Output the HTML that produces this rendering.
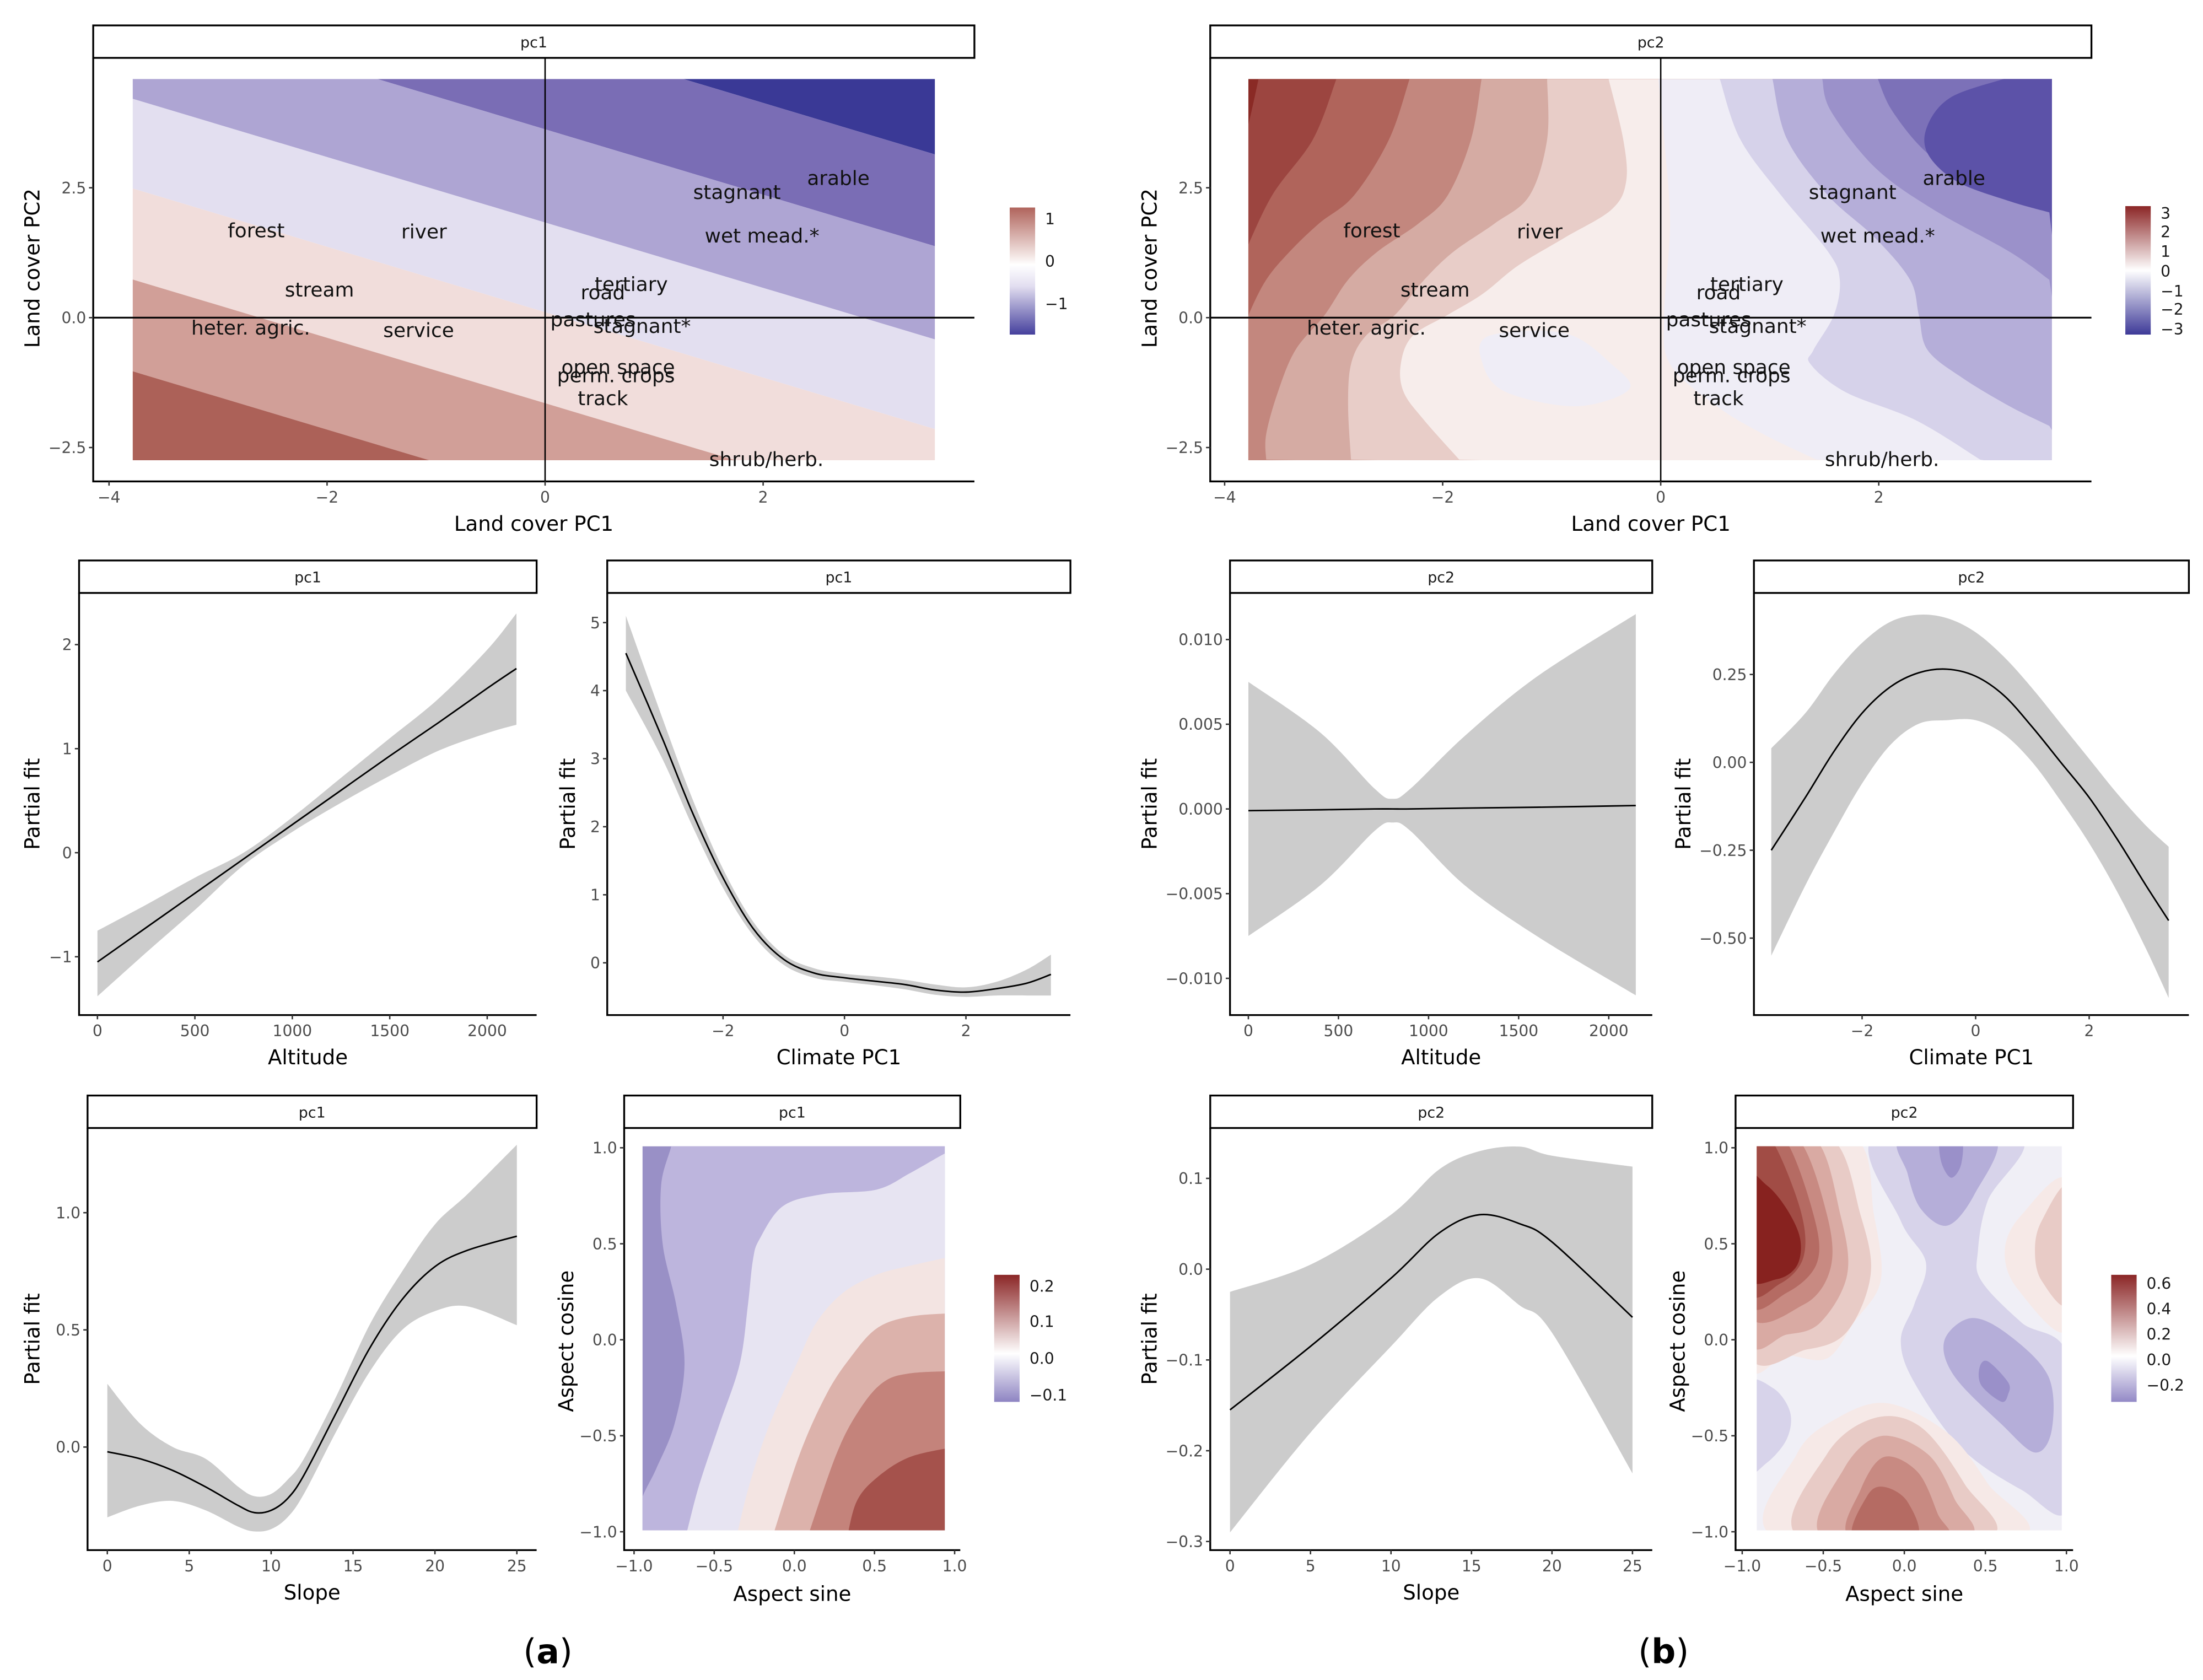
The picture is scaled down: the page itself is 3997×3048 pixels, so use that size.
<!DOCTYPE html>
<html>
<head>
<meta charset="utf-8">
<style>
html,body{margin:0;padding:0;background:#fff;}
svg{display:block;}
text{font-family:"DejaVu Sans","Liberation Sans",sans-serif;}
</style>
</head>
<body>
<svg id="chart" xmlns="http://www.w3.org/2000/svg" width="3997" height="3048" viewBox="0 0 1560 1190" preserveAspectRatio="none">
<defs>
<linearGradient id="gTL" x1="0" y1="0" x2="0" y2="1"><stop offset="0" stop-color="#b0645c"/><stop offset="0.38" stop-color="#f3e6e4"/><stop offset="0.45" stop-color="#ffffff"/><stop offset="0.62" stop-color="#e2def0"/><stop offset="1" stop-color="#45409d"/></linearGradient>
<linearGradient id="gTR" x1="0" y1="0" x2="0" y2="1"><stop offset="0" stop-color="#8b2626"/><stop offset="0.5" stop-color="#ffffff"/><stop offset="1" stop-color="#3e3a98"/></linearGradient>
<linearGradient id="gBL" x1="0" y1="0" x2="0" y2="1"><stop offset="0" stop-color="#8b2626"/><stop offset="0.62" stop-color="#ffffff"/><stop offset="1" stop-color="#8e84c2"/></linearGradient>
<linearGradient id="gBR" x1="0" y1="0" x2="0" y2="1"><stop offset="0" stop-color="#8b2626"/><stop offset="0.64" stop-color="#ffffff"/><stop offset="1" stop-color="#9389c6"/></linearGradient>
<clipPath id="cTL"><rect x="94" y="56" width="568" height="270"/></clipPath>
<clipPath id="cTR"><rect x="884" y="56" width="569" height="270"/></clipPath>
<clipPath id="cBL"><rect x="455" y="812" width="214" height="272"/></clipPath>
<clipPath id="cBR"><rect x="1244" y="812" width="216" height="272"/></clipPath>
</defs>
</svg>
<script>
// ---------------- DATA ----------------
const lcNames = ["arable","stagnant","forest","river","wet mead.*","tertiary","road","stream","pastures","heter. agric.","service","stagnant*","open space","perm. crops","track","shrub/herb."];
const lcPC1 = [2.69,1.76,-2.65,-1.11,1.99,0.79,0.53,-2.07,0.44,-2.70,-1.16,0.89,0.67,0.65,0.53,2.03];
const lcPC2 = [2.69,2.42,1.68,1.66,1.58,0.65,0.49,0.54,-0.03,-0.19,-0.24,-0.16,-0.95,-1.11,-1.55,-2.72];
const tlBoundaries = [-61,4,70,133.5,198,263];
const tlColors = ["#3a3996","#7a6db5","#aea5d3","#e3dff0","#f1dddb","#d19f98","#ac6158"];

const altX = [0,250,500,750,1000,1250,1500,1750,2000,2150];
const alt1Fit = [-1.05,-0.72,-0.39,-0.06,0.27,0.6,0.93,1.25,1.58,1.77];
const alt1Hi = [-0.75,-0.5,-0.24,0.0,0.34,0.72,1.1,1.48,1.95,2.3];
const alt1Lo = [-1.38,-0.96,-0.55,-0.12,0.2,0.48,0.74,0.98,1.15,1.23];
const climX = [-3.6,-3,-2.5,-2,-1.5,-1,-0.5,0,0.5,1,1.5,2,2.5,3,3.4];
const clim1Fit = [4.55,3.3,2.2,1.25,0.5,0.05,-0.15,-0.22,-0.27,-0.32,-0.4,-0.43,-0.38,-0.3,-0.17];
const clim1Hi = [5.1,3.6,2.4,1.38,0.6,0.12,-0.08,-0.16,-0.2,-0.25,-0.32,-0.36,-0.28,-0.1,0.12];
const clim1Lo = [4.0,3.0,2.0,1.1,0.4,-0.03,-0.22,-0.28,-0.33,-0.39,-0.47,-0.5,-0.48,-0.48,-0.48];
const alt2X = [0,400,700,800,900,1200,1600,2150];
const alt2Fit = [-0.0001,-0.00005,0.0,0.0,0.0,0.00005,0.0001,0.0002];
const alt2Hi = [0.0075,0.0045,0.0012,0.0006,0.0012,0.0043,0.0078,0.0115];
const alt2Lo = [-0.0075,-0.0045,-0.0013,-0.0008,-0.0013,-0.0045,-0.0075,-0.011];
const clim2Fit = [-0.25,-0.1,0.03,0.14,0.215,0.255,0.265,0.245,0.19,0.1,0.0,-0.1,-0.22,-0.35,-0.45];
const clim2Hi = [0.04,0.14,0.25,0.34,0.4,0.42,0.41,0.37,0.3,0.21,0.11,0.01,-0.09,-0.18,-0.24];
const clim2Lo = [-0.55,-0.35,-0.2,-0.06,0.05,0.11,0.12,0.12,0.08,0.0,-0.11,-0.23,-0.37,-0.53,-0.67];
const slopeX = [0,2,4,6,8,9,10,11,12,14,16,18,20,22,25];
const slope1Fit = [-0.02,-0.05,-0.1,-0.17,-0.25,-0.28,-0.27,-0.22,-0.12,0.15,0.42,0.63,0.77,0.84,0.9];
const slope1Hi = [0.27,0.1,0.0,-0.05,-0.17,-0.21,-0.2,-0.14,-0.05,0.22,0.52,0.75,0.95,1.08,1.29];
const slope1Lo = [-0.3,-0.25,-0.23,-0.27,-0.34,-0.36,-0.35,-0.3,-0.2,0.07,0.32,0.5,0.58,0.6,0.52];
const slope2X = [0,5,10,13,15.5,18,20,25];
const slope2Fit = [-0.155,-0.085,-0.01,0.04,0.06,0.05,0.03,-0.053];
const slope2Hi = [-0.025,0.005,0.06,0.11,0.13,0.135,0.125,0.113];
const slope2Lo = [-0.29,-0.18,-0.085,-0.03,-0.01,-0.04,-0.07,-0.225];

// ---------------- HELPERS ----------------
const NS = "http://www.w3.org/2000/svg";
const svg = document.getElementById('chart');
function mk(tag, attrs, parent){
  const e = document.createElementNS(NS, tag);
  for (const k in attrs) e.setAttribute(k, attrs[k]);
  (parent || svg).appendChild(e);
  return e;
}
function smooth(p, cont){
  let d = (cont ? 'L' : 'M') + p[0][0].toFixed(2) + ',' + p[0][1].toFixed(2);
  for (let i = 0; i < p.length - 1; i++){
    const p0 = p[i-1] || p[i], p1 = p[i], p2 = p[i+1], p3 = p[i+2] || p2;
    const c1 = [p1[0] + (p2[0]-p0[0])/6, p1[1] + (p2[1]-p0[1])/6];
    const c2 = [p2[0] - (p3[0]-p1[0])/6, p2[1] - (p3[1]-p1[1])/6];
    d += ` C${c1[0].toFixed(2)},${c1[1].toFixed(2)} ${c2[0].toFixed(2)},${c2[1].toFixed(2)} ${p2[0].toFixed(2)},${p2[1].toFixed(2)}`;
  }
  return d;
}
function smoothClosed(p){
  const n = p.length;
  let d = 'M' + p[0][0] + ',' + p[0][1];
  for (let i = 0; i < n; i++){
    const p0 = p[(i-1+n)%n], p1 = p[i], p2 = p[(i+1)%n], p3 = p[(i+2)%n];
    const c1 = [p1[0] + (p2[0]-p0[0])/6, p1[1] + (p2[1]-p0[1])/6];
    const c2 = [p2[0] - (p3[0]-p1[0])/6, p2[1] - (p3[1]-p1[1])/6];
    d += ` C${c1[0].toFixed(2)},${c1[1].toFixed(2)} ${c2[0].toFixed(2)},${c2[1].toFixed(2)} ${p2[0].toFixed(2)},${p2[1].toFixed(2)}`;
  }
  return d + 'Z';
}
function txt(x, y, s, size, attrs, parent){
  const t = mk('text', Object.assign({x:x, y:y, 'font-size':size, fill:'#000'}, attrs || {}), parent);
  t.textContent = s;
  return t;
}
function strip(x1, x2, y1, y2, label){
  const g = mk('g', {});
  
  
  const r = mk('rect', {x:x1, y:y1, width:x2-x1, height:y2-y1, fill:'#fff', stroke:'#000', 'stroke-width':1.3}, g);
  
  
  const t = txt((x1+x2)/2, (y1+y2)/2 + 4, label, 10.5, {'text-anchor':'middle', fill:'#1a1a1a'}, g);
  
  
}
function axes(left, top, right, bottom, g){
  const a = mk('path', {d:`M${left},${top} L${left},${bottom} L${right},${bottom}`, fill:'none', stroke:'#000', 'stroke-width':1.3}, g);
  
  
}
function xTicks(vals, labels, sx, bottom, g){
  vals.forEach((v, i) => {
    const x = sx(v);
    const tk = mk('line', {x1:x, x2:x, y1:bottom, y2:bottom+3, stroke:'#333', 'stroke-width':1}, g);
    
    
    const t = txt(x, bottom + 15, labels[i], 11, {'text-anchor':'middle', fill:'#4d4d4d'}, g);
    
    
  });
}
function yTicks(vals, labels, sy, left, g){
  vals.forEach((v, i) => {
    const y = sy(v);
    const tk = mk('line', {x1:left-3, x2:left, y1:y, y2:y, stroke:'#333', 'stroke-width':1}, g);
    
    
    const t = txt(left - 5, y + 4, labels[i], 11, {'text-anchor':'end', fill:'#4d4d4d'}, g);
    
    
  });
}
function titles(xt, xx, xy, yt, yx, yy, g){
  const a = txt(xx, xy, xt, 14.5, {'text-anchor':'middle'}, g);
  
  
  const b = txt(yx, yy, yt, 14.5, {'text-anchor':'middle', transform:`rotate(-90 ${yx} ${yy})`}, g);
  
  
}
function colorbar(x, y1, y2, grad, vals, labels, ys, name){
  const g = mk('g', {});
  
  
  const r = mk('rect', {x:x, y:y1, width:18, height:y2-y1, fill:`url(#${grad})`}, g);
  
  
  vals.forEach((v, i) => {
    const t = txt(x + 25, ys[i] + 4, labels[i], 11, {fill:'#1a1a1a'}, g);
    
    
  });
}

// ---------------- CURVE PANELS ----------------
function curvePanel(o){
  const g = mk('g', {});
  
  
  strip(o.left, o.right, o.top - 23, o.top, o.strip);
  const sx = v => o.x0 + v * o.kx;
  const sy = v => o.y0 - v * o.ky;
  const hi = o.xs.map((x, i) => [sx(x), sy(o.hi[i])]);
  const lo = o.xs.map((x, i) => [sx(x), sy(o.lo[i])]).reverse();
  const rib = mk('path', {d: smooth(hi) + ' ' + smooth(lo, true) + 'Z', fill:'#cccccc', stroke:'none'}, g);
  
  
  const fit = o.xs.map((x, i) => [sx(x), sy(o.fit[i])]);
  const ln = mk('path', {d: smooth(fit), fill:'none', stroke:'#000', 'stroke-width':1.1}, g);
  
  
  axes(o.left, o.top, o.right, o.bottom, g);
  xTicks(o.xt, o.xtl, sx, o.bottom, g);
  yTicks(o.yt, o.ytl, sy, o.left, g);
  titles(o.xtitle, (o.left + o.right)/2, o.bottom + 35, 'Partial fit', o.ytx, (o.top + o.bottom)/2, g);
}
curvePanel({name:'panel-altitude-pc1', strip:'pc1', left:56, right:380, top:420, bottom:719, x0:69, kx:0.138, y0:604, ky:73.7, ytx:28,
  xs:altX, fit:alt1Fit, hi:alt1Hi, lo:alt1Lo, xt:[0,500,1000,1500,2000], xtl:['0','500','1000','1500','2000'],
  yt:[2,1,0,-1], ytl:['2','1','0','−1'], xtitle:'Altitude'});
curvePanel({name:'panel-climate-pc1', strip:'pc1', left:430, right:758, top:420, bottom:719, x0:598, kx:43, y0:682, ky:48.2, ytx:407,
  xs:climX, fit:clim1Fit, hi:clim1Hi, lo:clim1Lo, xt:[-2,0,2], xtl:['−2','0','2'],
  yt:[5,4,3,2,1,0], ytl:['5','4','3','2','1','0'], xtitle:'Climate PC1'});
curvePanel({name:'panel-altitude-pc2', strip:'pc2', left:871, right:1170, top:420, bottom:719, x0:884, kx:0.1276, y0:573, ky:12000, ytx:819,
  xs:alt2X, fit:alt2Fit, hi:alt2Hi, lo:alt2Lo, xt:[0,500,1000,1500,2000], xtl:['0','500','1000','1500','2000'],
  yt:[0.01,0.005,0,-0.005,-0.01], ytl:['0.010','0.005','0.000','−0.005','−0.010'], xtitle:'Altitude'});
curvePanel({name:'panel-climate-pc2', strip:'pc2', left:1242, right:1550, top:420, bottom:719, x0:1399, kx:40.2, y0:540, ky:249, ytx:1197,
  xs:climX, fit:clim2Fit, hi:clim2Hi, lo:clim2Lo, xt:[-2,0,2], xtl:['−2','0','2'],
  yt:[0.25,0,-0.25,-0.5], ytl:['0.25','0.00','−0.25','−0.50'], xtitle:'Climate PC1'});
curvePanel({name:'panel-slope-pc1', strip:'pc1', left:62, right:380, top:799, bottom:1098, x0:76, kx:11.6, y0:1025, ky:166, ytx:28,
  xs:slopeX, fit:slope1Fit, hi:slope1Hi, lo:slope1Lo, xt:[0,5,10,15,20,25], xtl:['0','5','10','15','20','25'],
  yt:[1,0.5,0], ytl:['1.0','0.5','0.0'], xtitle:'Slope'});
curvePanel({name:'panel-slope-pc2', strip:'pc2', left:857, right:1170, top:799, bottom:1098, x0:871, kx:11.4, y0:899, ky:643, ytx:819,
  xs:slope2X, fit:slope2Fit, hi:slope2Hi, lo:slope2Lo, xt:[0,5,10,15,20,25], xtl:['0','5','10','15','20','25'],
  yt:[0.1,0,-0.1,-0.2,-0.3], ytl:['0.1','0.0','−0.1','−0.2','−0.3'], xtitle:'Slope'});

// ---------------- LAND COVER PANELS ----------------
function landPanel(o){
  const g = mk('g', {});
  
  
  strip(o.left, o.right, 18, 41, o.strip);
  const sx = v => o.x0 + v * 77.2;
  const sy = v => 225 - v * 36.8;
  const cg = mk('g', {'clip-path':`url(#${o.clip})`}, g);
  
  
  o.draw(cg);
  const v = mk('line', {x1:sx(0), x2:sx(0), y1:41, y2:341, stroke:'#000', 'stroke-width':1}, g);
  
  
  const h = mk('line', {x1:o.left, x2:o.right, y1:sy(0), y2:sy(0), stroke:'#000', 'stroke-width':1.2}, g);
  
  
  lcNames.forEach((n, i) => {
    const t = txt(sx(lcPC1[i]), sy(lcPC2[i]) + 5, n, 14, {'text-anchor':'middle', fill:'#111'}, g);
    
    
  });
  axes(o.left, 41, o.right, 341, g);
  xTicks([-4,-2,0,2], ['−4','−2','0','2'], sx, 341, g);
  yTicks([2.5,0,-2.5], ['2.5','0.0','−2.5'], sy, o.left, g);
  titles('Land cover PC1', (o.left+o.right)/2, 376, 'Land cover PC2', o.left - 38, 190, g);
}
landPanel({name:'panel-landcover-pc1', strip:'pc1', left:66, right:690, x0:386, clip:'cTL', draw: cg => {
  const ext = [-200].concat(tlBoundaries).concat([700]);
  for (let i = 0; i < tlColors.length; i++){
    const a = ext[i], b = ext[i+1];
    const L = (c, x) => c + 0.3 * (x - 94);
    const p = mk('polygon', {points:`60,${L(a,60)} 700,${L(a,700)} 700,${L(b,700)} 60,${L(b,60)}`, fill:tlColors[i]}, cg);
    
    
  }
}});

const trBase = "#8a2a25";
const trColors = ["#9c4540","#b0645b","#c3877e","#d5aba3","#e8cdc8","#f7edeb","#efedf6","#d6d2ea","#b5aed9","#9b91ca","#7c71b8","#5c52a8"];
const trCurves = [
 [[97,85],[85,200],[70,330]],
 [[230,85],[190,300],[120,500],[70,720]],
 [[355,85],[320,300],[260,500],[200,600],[150,700],[110,800],[80,925],[70,1000]],
 [[478,85],[460,300],[420,500],[370,600],[300,700],[250,800],[210,925],[160,1050],[130,1200],[110,1350],[110,1440]],
 [[590,85],[590,300],[560,500],[500,600],[430,700],[380,800],[330,925],[280,1000],[255,1100],[250,1250],[255,1440]],
 [[695,85],[720,300],[725,450],[700,550],[620,650],[540,750],[480,850],[420,925],[360,1000],[340,1100],[345,1200],[380,1300],[440,1440]],
 [[780,85],[790,300],[800,600],[790,925],[800,1100],[880,1250],[960,1350],[1050,1440]],
 [[885,85],[920,300],[990,500],[1070,700],[1090,800],[1080,925],[1045,1050],[1040,1100],[1100,1200],[1220,1300],[1330,1440]],
 [[975,85],[1000,300],[1070,500],[1150,650],[1210,800],[1225,925],[1240,1050],[1300,1150],[1380,1250],[1448,1320]],
 [[1060,85],[1075,200],[1150,400],[1250,550],[1380,700],[1448,800]],
 [[1155,85],[1180,200],[1240,350],[1320,450],[1448,550]],
 [[1370,85],[1280,150],[1240,250],[1240,350],[1290,450],[1380,520],[1448,560]]
];
landPanel({name:'panel-landcover-pc2', strip:'pc2', left:857, right:1481, x0:1176, clip:'cTR', draw: cg => {
  const X = z => 851 + z * 0.4145, Y = z => 39 + z * 0.199;
  const b = mk('rect', {x:870, y:50, width:600, height:290, fill:trBase}, cg);
  
  
  trCurves.forEach((c, i) => {
    const pts = c.map(p => [X(p[0]), Y(p[1])]);
    const last = c[c.length-1];
    let close = '';
    if (last[0] <= 80) close += ` L${X(40)},${Y(last[1])} L${X(40)},${Y(1500)}`;
    close += ` L${X(1500)},${Y(1500)} L${X(1500)},${Y(40)} L${X(c[0][0])},${Y(40)} Z`;
    const p = mk('path', {d: smooth(pts) + close, fill:trColors[i]}, cg);
    
    
    if (i === 5){
      const bl = mk('path', {d: smoothClosed([[X(490),Y(1000)],[X(620),Y(990)],[X(700),Y(1100)],[X(730),Y(1190)],[X(640),Y(1250)],[X(520),Y(1200)],[X(480),Y(1100)]]), fill:'#efedf6'}, cg);
      
      
    }
  });
}});
colorbar(715, 147, 237, 'gTL', [1,0,-1], ['1','0','−1'], [155,185,215], 'legend-pc1-landcover');
colorbar(1505, 146, 237, 'gTR', [3,2,1,0,-1,-2,-3], ['3','2','1','0','−1','−2','−3'], [151,164,178,192,206,219,233], 'legend-pc2-landcover');

// ---------------- ASPECT PANELS ----------------
function aspectPanel(o){
  const g = mk('g', {});
  
  
  strip(o.left, o.right, 776, 799, o.strip);
  const cg = mk('g', {'clip-path':`url(#${o.clip})`}, g);
  
  
  o.draw(cg);
  axes(o.left, 799, o.right, 1098, g);
  const sx = v => o.xc + v * o.kx;
  const sy = v => 949 - v * 136;
  xTicks([-1,-0.5,0,0.5,1], ['−1.0','−0.5','0.0','0.5','1.0'], sx, 1098, g);
  yTicks([1,0.5,0,-0.5,-1], ['1.0','0.5','0.0','−0.5','−1.0'], sy, o.left, g);
  titles('Aspect sine', (o.left+o.right)/2, 1134, 'Aspect cosine', o.left - 36, 950, g);
}
const blColors = ["#bdb5dd","#e7e4f2","#f3e4e2","#dcb2ab","#c4837b","#a5524c"];
const blCurves = [
 [[185,130],[185,170],[155,300],[160,500],[200,700],[225,900],[195,1100],[140,1250],[97,1350],[60,1490]],
 [[1040,180],[1003,195],[900,260],[800,315],[640,330],[520,370],[450,480],[430,550],[415,700],[390,900],[330,1100],[270,1300],[235,1448],[225,1490]],
 [[1040,535],[900,570],[800,600],[700,660],[620,760],[560,900],[480,1100],[420,1300],[378,1490]],
 [[1040,728],[900,740],[800,780],[720,880],[650,1000],[570,1200],[485,1490]],
 [[1040,922],[900,930],[820,960],[750,1050],[680,1200],[590,1490]],
 [[1040,1175],[900,1210],[800,1280],[740,1360],[710,1490]]
];
aspectPanel({name:'panel-aspect-pc1', strip:'pc1', left:442, right:680, xc:562.5, kx:113.5, clip:'cBL', draw: cg => {
  const X = z => 431.5 + z * 0.2365, Y = z => 776 + z * 0.2116;
  const b = mk('rect', {x:440, y:800, width:240, height:290, fill:'#9990c6'}, cg);
  
  
  blCurves.forEach((c, i) => {
    const pts = c.map(p => [X(p[0]), Y(p[1])]);
    let d = smooth(pts) + ` L${X(1040)},${Y(1490)} L${X(1040)},${Y(c[0][1])}`;
    if (i === 0) d += ` L${X(1040)},${Y(130)}`;
    const p = mk('path', {d: d + 'Z', fill:blColors[i]}, cg);
    
    
  });
}});
const brShapes = [
 ["#d7d3ea", [[560,140],[995,140],[900,350],[870,520],[880,620],[1000,760],[1140,880],[1140,1380],[1000,1320],[820,1180],[680,960],[640,820],[680,700],[715,560],[640,420]]],
 ["#b5aed9", [[645,140],[920,140],[860,330],[780,435],[700,380],[660,260]]],
 ["#b5aed9", [[850,745],[960,800],[1080,940],[1090,1120],[1040,1195],[940,1100],[800,940],[770,820]]],
 ["#9a90c9", [[760,140],[820,140],[820,230],[790,275],[760,220]]],
 ["#9a90c9", [[900,890],[960,960],[960,1000],[940,1025],[880,970],[875,910]]],
 ["#d7d3ea", [[180,970],[260,980],[310,1060],[300,1150],[240,1230],[180,1250]]],
 ["#f6e9e7", [[180,140],[500,140],[560,400],[580,620],[500,760],[420,880],[300,870],[180,880]]],
 ["#e8cbc6", [[180,140],[430,140],[520,400],[550,600],[480,790],[360,850],[180,850]]],
 ["#d9aaa3", [[180,140],[380,140],[460,400],[480,600],[400,760],[300,800],[180,800]]],
 ["#c88a82", [[180,140],[330,140],[420,400],[430,580],[350,700],[180,720]]],
 ["#b56b63", [[180,140],[290,140],[380,400],[390,560],[300,660],[180,680]]],
 ["#a14c45", [[180,140],[250,140],[340,380],[350,540],[280,630],[180,640]]],
 ["#87221f", [[180,280],[240,300],[300,380],[340,480],[330,570],[270,615],[180,600]]],
 ["#f6e9e7", [[270,1480],[330,1200],[450,1080],[600,1030],[780,1130],[900,1300],[990,1480]]],
 ["#e8cbc6", [[340,1480],[420,1200],[560,1080],[700,1110],[830,1300],[900,1480]]],
 ["#d9aaa3", [[410,1480],[470,1250],[580,1140],[720,1200],[800,1350],[835,1480]]],
 ["#c88a82", [[490,1480],[520,1320],[590,1210],[690,1260],[750,1400],[770,1480]]],
 ["#b56b63", [[500,1480],[540,1340],[590,1310],[660,1360],[685,1480]]],
 ["#f6e9e7", [[1140,290],[1000,400],[950,520],[990,650],[1140,780]]],
 ["#e8cbc6", [[1140,310],[1060,420],[1040,520],[1060,620],[1140,690]]]
];
aspectPanel({name:'panel-aspect-pc2', strip:'pc2', left:1229, right:1468, xc:1348.5, kx:114.8, clip:'cBR', draw: cg => {
  const X = z => 1194 + z * 0.2375, Y = z => 776 + z * 0.2116;
  const b = mk('rect', {x:1230, y:800, width:240, height:290, fill:'#f0eff6'}, cg);
  
  
  brShapes.forEach(s => {
    const pts = s[1].map(p => [X(p[0]), Y(p[1])]);
    const p = mk('path', {d: smoothClosed(pts), fill:s[0]}, cg);
    
    
  });
}});
colorbar(704, 903, 993, 'gBL', [0.2,0.1,0,-0.1], ['0.2','0.1','0.0','−0.1'], [911,936,962,988], 'legend-pc1-aspect');
colorbar(1495, 903, 993, 'gBR', [0.6,0.4,0.2,0,-0.2], ['0.6','0.4','0.2','0.0','−0.2'], [909,927,945,963,981], 'legend-pc2-aspect');

// sub-figure labels
const la = txt(388, 1178, '(a)', 24, {'text-anchor':'middle', 'font-family':'"Liberation Serif", serif'});


la.innerHTML = '(<tspan font-weight="bold">a</tspan>)';
const lb = txt(1178, 1178, '(b)', 24, {'text-anchor':'middle', 'font-family':'"Liberation Serif", serif'});


lb.innerHTML = '(<tspan font-weight="bold">b</tspan>)';
</script>
</body>
</html>
